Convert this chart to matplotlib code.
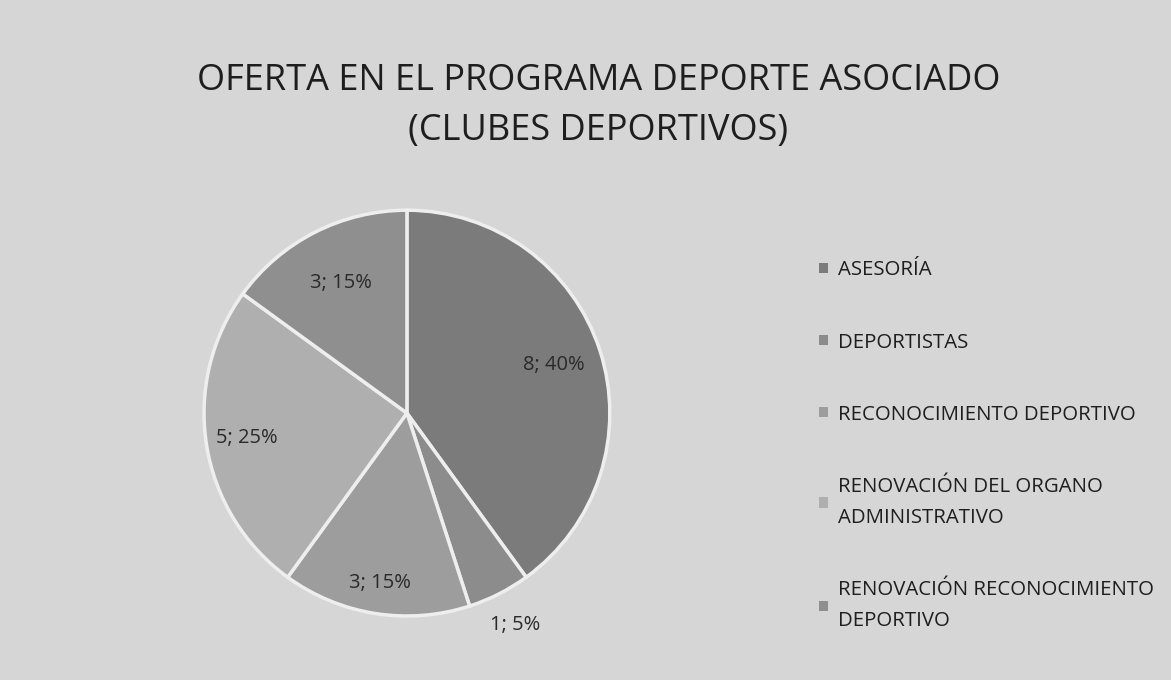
import matplotlib.pyplot as plt
from matplotlib.patches import Patch
import numpy as np

plt.rcParams['font.family'] = ['Open Sans', 'DejaVu Sans']

# data
categories = ["ASESORÍA", "DEPORTISTAS", "RECONOCIMIENTO DEPORTIVO",
              "RENOVACIÓN DEL ORGANO\nADMINISTRATIVO",
              "RENOVACIÓN RECONOCIMIENTO\nDEPORTIVO"]
values = [8, 1, 3, 5, 3]
percents = [40, 5, 15, 25, 15]
colors = ["#7b7b7b", "#8c8c8c", "#9d9d9d", "#afafaf", "#8f8f8f"]
label_dist = [0.76, 1.17, 0.85, 0.80, 0.72]

bg = "#d6d6d6"
fig = plt.figure(figsize=(11.71, 6.8), dpi=100, facecolor=bg)
ax = fig.add_axes([0.1725, 0.091, 0.350, 0.603])
ax.set_facecolor(bg)

wedges, _ = ax.pie(values, colors=colors, startangle=90, counterclock=False,
                   wedgeprops=dict(edgecolor="#eeeeee", linewidth=2.5))
ax.set_aspect("equal")
ax.set_xlim(-1.01, 1.01)
ax.set_ylim(-1.01, 1.01)

for w, v, p, d in zip(wedges, values, percents, label_dist):
    mid = np.deg2rad((w.theta1 + w.theta2) / 2)
    ax.text(d * np.cos(mid), d * np.sin(mid), f"{v}; {p}%",
            ha="center", va="center", fontsize=14.5, color="#2a2a2a")

fig.text(0.511, 0.844, "OFERTA EN EL PROGRAMA DEPORTE ASOCIADO\n(CLUBES DEPORTIVOS)",
         ha="center", va="center", fontsize=26, color="#1e1e1e", linespacing=1.5)

handles = [Patch(facecolor=c, edgecolor="none") for c in colors]
leg = fig.legend(handles, categories, loc="upper left", bbox_to_anchor=(0.684, 0.644),
                 frameon=False, fontsize=14.7, handlelength=0.4, handleheight=0.4,
                 handletextpad=0.5, labelspacing=2.55)
for t in leg.get_texts():
    t.set_color("#1e1e1e")
    t.set_linespacing(1.75)

fig.savefig("out.png", dpi=100, facecolor=bg)
